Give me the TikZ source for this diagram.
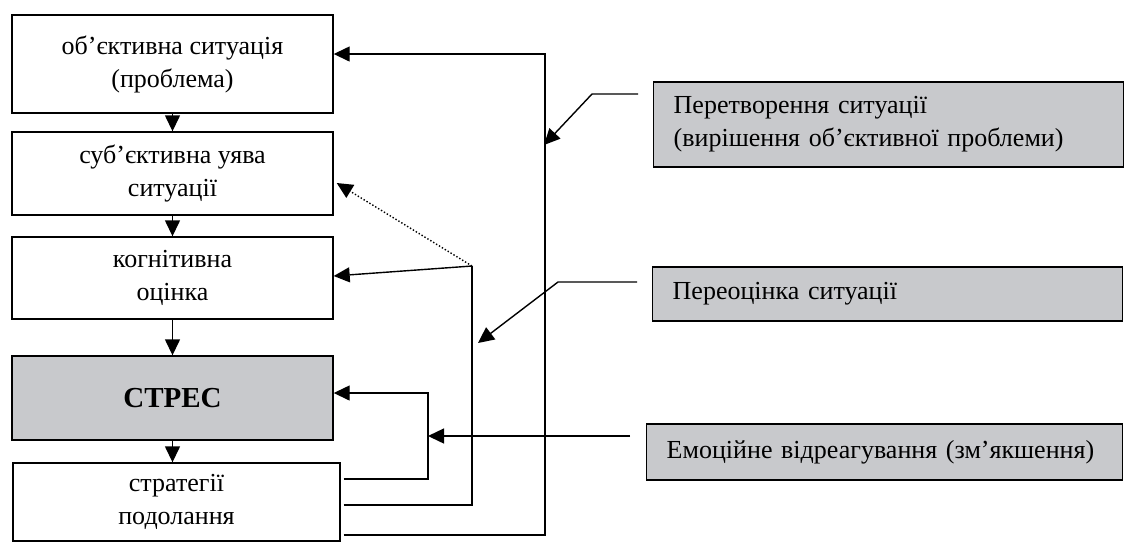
\documentclass[tikz,border=0pt]{standalone}
\usepackage{fontspec}
\setmainfont{Liberation Serif}
\usetikzlibrary{arrows.meta,positioning}
\definecolor{boxgray}{RGB}{200,201,204}

\begin{document}
\begin{tikzpicture}[x=0.5pt,y=-0.5pt,
	every path/.style={line width=0.7pt},
	arr/.style={-{Triangle[length=8pt,width=7.5pt]}},
	stage/.style={draw,align=center,inner sep=0pt,minimum width=160.5pt,
		font=\fontsize{13}{16.5}\selectfont},
	way/.style={draw,fill=boxgray,align=left,anchor=west,inner xsep=10pt,
		inner ysep=0pt,text width=215pt,font=\fontsize{13}{16.5}\selectfont}]
	\useasboundingbox (0,0) rectangle (1124,543);

	% left column
	\node[stage,minimum height=49pt] (ob) at (172.5,64) {об’єктивна ситуація\\(проблема)};
	\node[stage,minimum height=41.5pt] (sub) at (172.5,173.5) {суб’єктивна уява\\ситуації};
	\node[stage,minimum height=41pt] (kog) at (172.5,278) {когнітивна\\оцінка};
	\node[stage,minimum height=42pt,fill=boxgray,font=\fontsize{14.5}{16.5}\selectfont\bfseries] (stres) at (172.5,398) {СТРЕС};
	\node[stage,minimum height=39pt,minimum width=163.5pt] (strat) at (176.5,502) {стратегії\\подолання};

	\draw[arr] (ob) -- (sub);
	\draw[arr] (sub) -- (kog);
	\draw[arr] (kog) -- (stres);
	\draw[arr] (stres.south) -- (stres.south |- strat.north);

	% right column
	\node[way,minimum height=42.5pt] (per) at (653,124.5) {Перетворення ситуації\\(вирішення об’єктивної проблеми)};
	\node[way,minimum height=27pt] (pereo) at (652,294) {Переоцінка ситуації};
	\node[way,minimum height=28pt,text width=218pt] (emo) at (646,452) {Емоційне відреагування (зм’якшення)};

	% feedback loops
	\coordinate (o1) at (545,535);
	\coordinate (o2) at (545,54);
	\draw[arr] ([xshift=1.5pt]strat.east |- o1) -- (o1) -- (o2) -- (ob.east |- o2);

	\coordinate (m1) at (472,505);
	\coordinate (m2) at (472,266);
	\draw ([xshift=1.5pt]strat.east |- m1) -- (m1) -- (m2);
	\draw[arr] (m2) -- ([yshift=1pt]kog.east);
	\draw[arr,densely dotted] (m2) -- ([xshift=1.5pt,yshift=-4.75pt]sub.east);

	\coordinate (i1) at (428,479);
	\coordinate (i2) at (428,393);
	\draw[arr] ([xshift=1.5pt]strat.east |- i1) -- (i1) -- (i2) -- (stres.east |- i2);

	% ways of coping
	\coordinate (p1) at (592,94);
	\coordinate (p2) at (544,145);
	\draw[arr] ([xshift=-7.5pt]per.west |- p1) -- (p1) -- (p2);

	\coordinate (r1) at (558,282);
	\coordinate (r2) at (478,343);
	\draw[arr] ([xshift=-7.5pt]pereo.west |- r1) -- (r1) -- (r2);

	\coordinate (e1) at (428,436);
	\draw[arr] ([xshift=-8pt]emo.west |- e1) -- (e1);
\end{tikzpicture}
\end{document}
